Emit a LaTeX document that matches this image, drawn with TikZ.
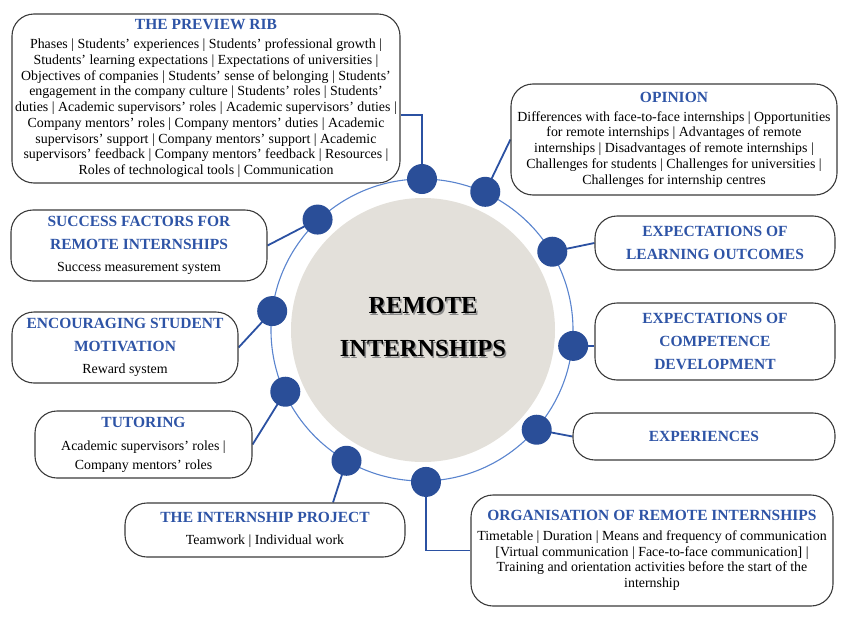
\documentclass[tikz,border=0pt]{standalone}
\usepackage{fontspec}
\setmainfont{Liberation Serif}
\usetikzlibrary{calc,backgrounds}
\definecolor{tblue}{HTML}{2E54A6}
\definecolor{dotc}{HTML}{2A4E98}
\definecolor{connc}{HTML}{2B51A2}
\definecolor{ringc}{HTML}{5A84CE}
\definecolor{bordc}{HTML}{3A3A3A}
\definecolor{grayc}{HTML}{E3E0DA}
\newcommand\ttl[1]{{\fontsize{15.5}{18}\selectfont\bfseries\color{tblue}#1}}
\begin{document}
\begin{tikzpicture}[x=1pt,y=1pt,
  box/.style={draw=bordc,line width=1.1pt,rounded corners=22pt,inner sep=0pt,align=center,font=\fontsize{13.9}{15.75}\selectfont},
  conn/.style={draw=connc,line width=1.8pt},
  dot/.style={circle,fill=dotc,minimum size=30pt,inner sep=0pt},
  ring/.style={draw=ringc,line width=1.1pt},
  core/.style={font=\fontsize{24.5}{43}\selectfont\bfseries,align=center,inner sep=0pt}]
\useasboundingbox (0,0) rectangle (844,-624);
\coordinate (c) at (422,-330);
\node[circle,fill=grayc,minimum size=264pt,inner sep=0pt] (disc) at (423,-330) {};
\draw[ring] (c) circle (151);
\node[core,text=black!45] (coreshadow) at (424.4,-328.9) {REMOTE\\INTERNSHIPS};
\node[core] (coretext) at (423,-327.5) {REMOTE\\INTERNSHIPS};
% dots
\node[dot] (d1) at ($(c)+(90:151)$) {};
\node[dot] (d2) at ($(c)+(65.4:152)$) {};
\node[dot] (d3) at ($(c)+(31:152)$) {};
\node[dot] (d4) at ($(c)+(-6:152)$) {};
\node[dot] (d5) at ($(c)+(-41:152)$) {};
\node[dot] (d6) at ($(c)+(-88.5:152)$) {};
\node[dot] (d7) at ($(c)+(-120:151)$) {};
\node[dot] (d8) at ($(c)+(-155.7:150)$) {};
\node[dot] (d9) at ($(c)+(172.8:151)$) {};
\node[dot] (d10) at ($(c)+(133.4:152)$) {};
% boxes
\node[box,minimum width=388pt,minimum height=169pt] (rib) at (206,-98.5) {\ttl{THE PREVIEW RIB}\\[3.5pt]
Phases | Students’ experiences | Students’ professional growth |\\
Students’ learning expectations | Expectations of universities |\\
Objectives of companies | Students’ sense of belonging | Students’\\
engagement in the company culture | Students’ roles | Students’\\
duties | Academic supervisors’ roles | Academic supervisors’ duties |\\
Company mentors’ roles | Company mentors’ duties | Academic\\
supervisors’ support | Company mentors’ support | Academic\\
supervisors’ feedback | Company mentors’ feedback | Resources |\\
Roles of technological tools | Communication};
\node[box,minimum width=326pt,minimum height=111pt] (op) at (674,-139.5) {\ttl{OPINION}\\[3pt]
Differences with face-to-face internships | Opportunities\\
for remote internships | Advantages of remote\\
internships | Disadvantages of remote internships |\\
Challenges for students | Challenges for universities |\\
Challenges for internship centres};
\node[box,minimum width=240pt,minimum height=54pt] (lo) at (715,-243) {\ttl{EXPECTATIONS OF}\\[7.25pt]\ttl{LEARNING OUTCOMES}};
\node[box,minimum width=240pt,minimum height=77pt] (comp) at (715,-341.5) {\ttl{EXPECTATIONS OF}\\[7.25pt]\ttl{COMPETENCE}\\[7.25pt]\ttl{DEVELOPMENT}};
\node[box,minimum width=262pt,minimum height=47pt] (exp) at (704,-436.5) {\ttl{EXPERIENCES}};
\node[box,minimum width=362pt,minimum height=111pt] (org) at (652,-550.5) {\ttl{ORGANISATION OF REMOTE INTERNSHIPS}\\[4pt]
Timetable | Duration | Means and frequency of communication\\
{[}Virtual communication | Face-to-face communication{]} |\\
Training and orientation activities before the start of the\\
internship};
\node[box,minimum width=280pt,minimum height=54pt] (proj) at (265,-530) {\ttl{THE INTERNSHIP PROJECT}\\[6pt]
Teamwork | Individual work};
\node[box,minimum width=217pt,minimum height=67pt] (tut) at (143.5,-444.5) {\ttl{TUTORING}\\[7pt]
Academic supervisors’ roles |\\[3.25pt]
Company mentors’ roles};
\node[box,minimum width=226pt,minimum height=71pt] (enc) at (125,-347.5) {\ttl{ENCOURAGING STUDENT}\\[7.25pt]\ttl{MOTIVATION}\\[6pt]
Reward system};
\node[box,minimum width=256pt,minimum height=71pt] (succ) at (139,-245.5) {\ttl{SUCCESS FACTORS FOR}\\[7.25pt]\ttl{REMOTE INTERNSHIPS}\\[6pt]
Success measurement system};
% connectors
\begin{scope}[on background layer]
\draw[conn] (d1.center) |- ([yshift=-16.5pt]rib.east);
\draw[conn] (d2.center) -- (op.west);
\draw[conn] (d3.center) -- (lo.west);
\draw[conn] (d4.center) -- (d4.center -| comp.west);
\draw[conn] (d5.center) -- (exp.west);
\draw[conn] (d6.center) |- (org.west);
\draw[conn] (d7.center) -- ([xshift=68pt]proj.north);
\draw[conn] (d8.center) -- (tut.east);
\draw[conn] (d9.center) -- (enc.east);
\draw[conn] (d10.center) -- (succ.east);
\end{scope}
\end{tikzpicture}
\end{document}
